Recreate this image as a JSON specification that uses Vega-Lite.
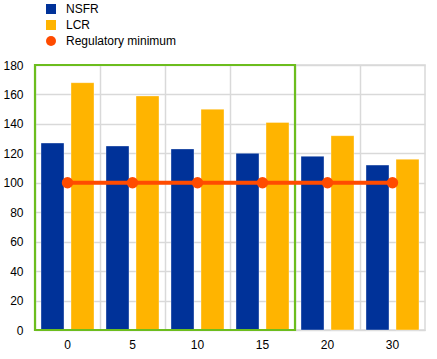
{
  "$schema": "https://vega.github.io/schema/vega-lite/v6.json",
  "width": 390,
  "height": 265,
  "autosize": "none",
  "padding": {"left": 35, "top": 65, "right": 12, "bottom": 29},
  "config": {
    "font": "Liberation Sans",
    "view": {"stroke": "#d9d9d9", "strokeWidth": 1.5},
    "axis": {"labelFont": "Liberation Sans", "labelFontSize": 12, "labelColor": "#000000", "gridColor": "#d9d9d9", "gridWidth": 1.5, "domainColor": "#d9d9d9", "ticks": false, "title": null, "labelOverlap": false}
  },
  "datasets": {
    "bars": [
      {"cat": "0", "series": "NSFR", "value": 127},
      {"cat": "0", "series": "LCR", "value": 168},
      {"cat": "5", "series": "NSFR", "value": 125},
      {"cat": "5", "series": "LCR", "value": 159},
      {"cat": "10", "series": "NSFR", "value": 123},
      {"cat": "10", "series": "LCR", "value": 150},
      {"cat": "15", "series": "NSFR", "value": 120},
      {"cat": "15", "series": "LCR", "value": 141},
      {"cat": "20", "series": "NSFR", "value": 118},
      {"cat": "20", "series": "LCR", "value": 132},
      {"cat": "30", "series": "NSFR", "value": 112},
      {"cat": "30", "series": "LCR", "value": 116}
    ],
    "minimum": [
      {"cat": "0", "series": "Regulatory minimum", "value": 100},
      {"cat": "5", "series": "Regulatory minimum", "value": 100},
      {"cat": "10", "series": "Regulatory minimum", "value": 100},
      {"cat": "15", "series": "Regulatory minimum", "value": 100},
      {"cat": "20", "series": "Regulatory minimum", "value": 100},
      {"cat": "30", "series": "Regulatory minimum", "value": 100}
    ],
    "box": [
      {"from": "0", "to": "15", "low": 0, "high": 180}
    ]
  },
  "encoding": {
    "x": {"field": "cat", "type": "nominal", "sort": ["0", "5", "10", "15", "20", "30"],
      "scale": {"domain": ["0", "5", "10", "15", "20", "30"], "paddingInner": 0, "paddingOuter": 0},
      "axis": {"labelAngle": 0, "labelPadding": 9, "grid": true, "bandPosition": 0, "domain": true}},
    "y": {"field": "value", "type": "quantitative", "scale": {"domain": [0, 180], "nice": false},
      "axis": {"values": [0, 20, 40, 60, 80, 100, 120, 140, 160, 180], "labelPadding": 12, "domain": false, "grid": true, "labelOverlap": false}}
  },
  "layer": [
    {
      "data": {"name": "bars"},
      "mark": {"type": "bar", "stroke": "#ffffff", "strokeWidth": 0.6, "strokeOpacity": 0.6},
      "encoding": {
        "xOffset": {"field": "series", "type": "nominal", "sort": ["NSFR", "LCR"], "scale": {"domain": ["NSFR", "LCR"], "paddingInner": 0.233, "paddingOuter": 0.2}},
        "color": {"field": "series", "type": "nominal",
          "scale": {"domain": ["NSFR", "LCR", "Regulatory minimum"], "range": ["#003299", "#ffb400", "#ff4b00"]},
          "legend": {"title": null, "orient": "none", "legendX": 10, "legendY": -62, "direction": "vertical",
            "symbolSize": 100, "labelFontSize": 12, "labelColor": "#000000", "labelFont": "Liberation Sans", "rowPadding": 4, "labelOffset": 9, "symbolStrokeWidth": 0}}
      }
    },
    {
      "data": {"name": "box"},
      "mark": {"type": "rect", "fill": null, "stroke": "#6cbd1e", "strokeWidth": 2.2},
      "encoding": {
        "x": {"field": "from", "type": "nominal", "bandPosition": 0},
        "x2": {"field": "to", "bandPosition": 1},
        "y": {"field": "low", "type": "quantitative"},
        "y2": {"field": "high"}
      }
    },
    {
      "data": {"name": "minimum"},
      "mark": {"type": "line", "color": "#ff4b00", "strokeWidth": 4},
      "encoding": {}
    },
    {
      "data": {"name": "minimum"},
      "mark": {"type": "point", "filled": true, "opacity": 1, "size": 130},
      "encoding": {
        "color": {"field": "series", "type": "nominal"},
        "shape": {"field": "series", "type": "nominal",
          "scale": {"domain": ["NSFR", "LCR", "Regulatory minimum"], "range": ["square", "square", "circle"]}}
      }
    }
  ]
}
